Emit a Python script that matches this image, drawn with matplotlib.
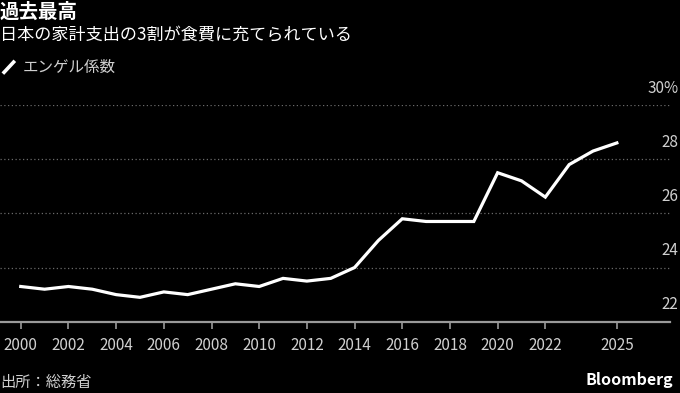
import matplotlib
matplotlib.use("Agg")
import matplotlib.pyplot as plt
from matplotlib.lines import Line2D
from matplotlib.transforms import blended_transform_factory

years = list(range(2000, 2026))
engel = [23.3, 23.2, 23.3, 23.2, 23.0, 22.9, 23.1, 23.0, 23.2, 23.4,
         23.3, 23.6, 23.5, 23.6, 24.0, 25.0, 25.8, 25.7, 25.7, 25.7,
         27.5, 27.2, 26.6, 27.8, 28.3, 28.6]
xticks = [2000, 2002, 2004, 2006, 2008, 2010, 2012, 2014, 2016, 2018, 2020, 2022, 2025]
yticks = [22, 24, 26, 28, 30]
ytick_labels = ["22", "24", "26", "28", "30%"]

BG = "black"
INK = "white"
DIM = "#d0d0d0"
GRID = "#6a6a6a"

plt.rcParams["font.family"] = ["Noto Sans CJK JP", "DejaVu Sans"]

fig = plt.figure(figsize=(6.8, 3.93), dpi=100)
fig.patch.set_facecolor(BG)
ax = fig.add_axes([0.0, 0.1814, 0.985, 0.5514])
ax.set_facecolor(BG)

ax.plot(years, engel, color=INK, linewidth=2.3, solid_joinstyle="miter", zorder=3)

ax.set_xlim(1999.13, 2027.22)
ax.set_ylim(22, 30)

# dotted gridlines (the 22 line is the axis itself)
for v in yticks[1:]:
    ax.axhline(v, color=GRID, linewidth=0.9, linestyle=(0, (1, 2)), zorder=1)

for s in ["top", "right", "left"]:
    ax.spines[s].set_visible(False)
ax.spines["bottom"].set_color("#9a9a9a")
ax.spines["bottom"].set_linewidth(1.6)

ax.set_yticks([])
ax.set_xticks(xticks)
ax.set_xticklabels([str(x) for x in xticks])
ax.tick_params(axis="x", colors="#9a9a9a", length=5, width=1.2, pad=6,
               labelsize=11, labelcolor=DIM)

# y labels sit above their gridlines at the right edge
tr = blended_transform_factory(fig.transFigure, ax.transData)
for v, lab in zip(yticks, ytick_labels):
    ax.annotate(lab, xy=(0.998, v), xycoords=tr, xytext=(0, 6),
                textcoords="offset points", ha="right", va="bottom",
                fontsize=11, color=DIM, annotation_clip=False)

fig.text(0.0, 0.97, "過去最高", fontsize=14, fontweight="bold", color=INK,
         ha="left", va="center")
fig.text(0.0, 0.91, "日本の家計支出の3割が食費に充てられている", fontsize=12.3,
         color=INK, ha="left", va="center")

# legend
fig.add_artist(Line2D([0.006, 0.02], [0.816, 0.842], transform=fig.transFigure,
                      color=INK, linewidth=2.6))
fig.text(0.034, 0.828, "エンゲル係数", fontsize=11.2, color=DIM,
         ha="left", va="center")

fig.text(0.0, 0.026, "出所：総務省", fontsize=11, color=DIM,
         ha="left", va="center")
fig.text(0.99, 0.033, "Bloomberg", fontsize=11.5, fontweight="bold", color=INK,
         ha="right", va="center")

fig.savefig("out.png", dpi=100, facecolor=BG)
